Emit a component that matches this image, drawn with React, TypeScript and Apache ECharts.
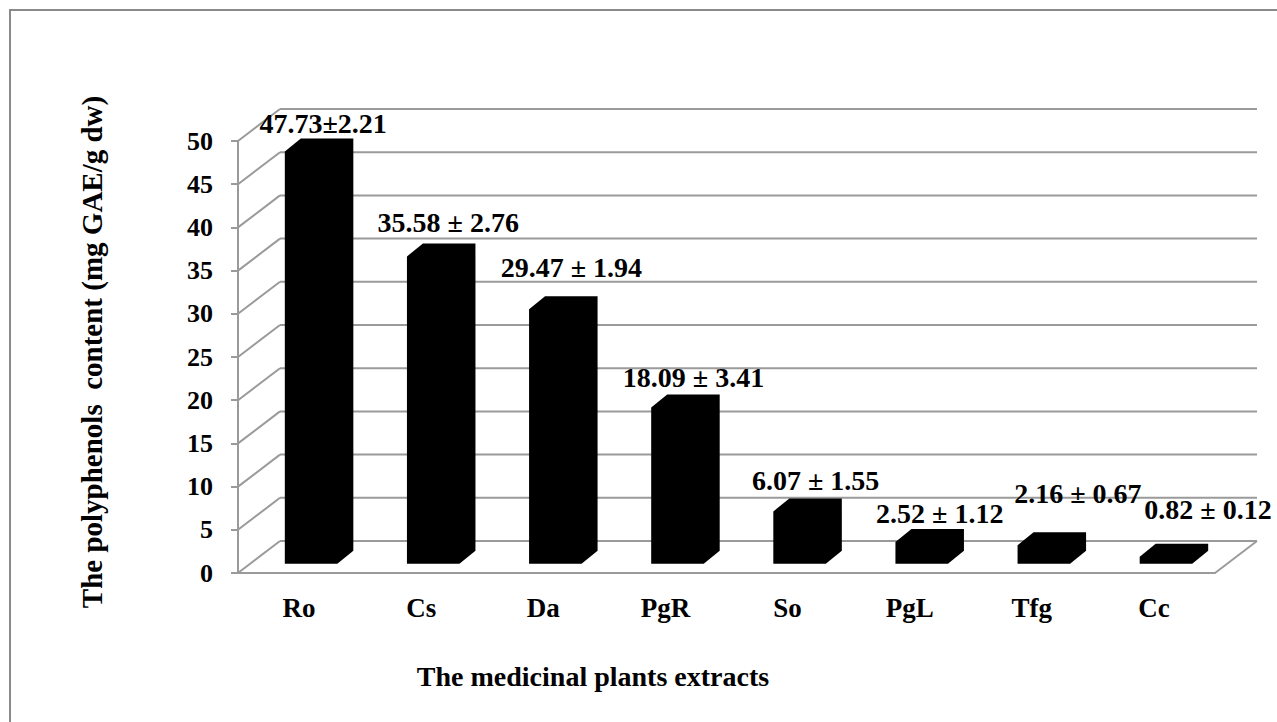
import React, { useEffect, useRef } from 'react';
import * as echarts from 'echarts';

const CATEGORIES = ['Ro', 'Cs', 'Da', 'PgR', 'So', 'PgL', 'Tfg', 'Cc'];
const MEANS = [47.73, 35.58, 29.47, 18.09, 6.07, 2.52, 2.16, 0.82];
const SDS = [2.21, 2.76, 1.94, 3.41, 1.55, 1.12, 0.67, 0.12];
const Y_TICKS = [0, 5, 10, 15, 20, 25, 30, 35, 40, 45, 50];

const X_TITLE = 'The medicinal plants extracts';
const Y_TITLE = 'The polyphenols  content (mg GAE/g dw)';

// layout nudges of the value labels (px), relative to the top of each bar
const LABEL_NUDGE_X = [4, 7, 8, 8, 8, 10, 26, 34];
const LABEL_NUDGE_Y = [-15, -21, -29, -17, -18, -16, -39, -34];

const FONT = '"Liberation Serif", "Times New Roman", serif';
const GRID_COLOR = '#9a9a9a';

export default function App() {
  const ref = useRef<HTMLDivElement>(null);
  useEffect(() => {
    const chart = echarts.init(ref.current!, null, { renderer: 'svg' });
    const DX = 42, DY = -32; // floor depth
    const F0 = 0.286; // bar front position in depth
    const BDX = 16, BDY = -13; // bar depth
    const FW = 0.43; // bar front width / band

    const labels = MEANS.map((m, i) =>
      i === 0 ? `${m.toFixed(2)}±${SDS[i].toFixed(2)}` : `${m.toFixed(2)} ± ${SDS[i].toFixed(2)}`
    );

    const option: any = {
      animation: false,
      backgroundColor: '#ffffff',
      grid: { left: 238, right: 62, top: 141, bottom: 149 },
      xAxis: {
        type: 'category',
        data: CATEGORIES,
        axisLine: { show: true, lineStyle: { color: GRID_COLOR, width: 2 } },
        axisTick: { show: false },
        axisLabel: { color: '#000', fontFamily: FONT, fontWeight: 'bold', fontSize: 27, margin: 21 },
        splitLine: { show: false },
      },
      yAxis: {
        type: 'value',
        min: 0,
        max: 50,
        interval: 5,
        axisLine: { show: true, lineStyle: { color: GRID_COLOR, width: 2 } },
        axisTick: { show: true, length: 7, lineStyle: { color: GRID_COLOR, width: 2 } },
        axisLabel: { color: '#000', fontFamily: FONT, fontWeight: 'bold', fontSize: 26, margin: 25 },
        splitLine: { show: false },
      },
      graphic: [
        {
          type: 'rect',
          shape: { x: 10, y: 10, width: 1300, height: 740 },
          style: { fill: 'none', stroke: '#8a8a8a', lineWidth: 2 },
          silent: true,
          z: -10,
        },
        {
          type: 'text',
          x: 593,
          y: 676,
          style: {
            text: X_TITLE,
            fill: '#000',
            font: `bold 28px ${FONT}`,
            textAlign: 'center',
            textVerticalAlign: 'middle',
          },
        },
        {
          type: 'text',
          x: 92,
          y: 352,
          rotation: Math.PI / 2,
          style: {
            text: Y_TITLE,
            fill: '#000',
            font: `bold 29px ${FONT}`,
            textAlign: 'center',
            textVerticalAlign: 'middle',
          },
        },
      ],
      series: [
        {
          type: 'custom',
          z: 1,
          silent: true,
          encode: { x: 0, y: 1 },
          data: Y_TICKS.map((v) => [0, v]),
          renderItem: (params: any, api: any) => {
            const cs = params.coordSys;
            const v = api.value(1);
            const y = api.coord([0, v])[1];
            const gx = cs.x;
            const gr = cs.x + cs.width;
            const ls = { stroke: GRID_COLOR, lineWidth: 2 };
            const children: any[] = [
              { type: 'line', shape: { x1: gx, y1: y, x2: gx + DX, y2: y + DY }, style: ls },
              { type: 'line', shape: { x1: gx + DX, y1: y + DY, x2: gr + DX, y2: y + DY }, style: ls },
            ];
            if (v === 0) {
              children.push({ type: 'line', shape: { x1: gr, y1: y, x2: gr + DX, y2: y + DY }, style: ls });
            }
            return { type: 'group', children };
          },
        },
        {
          type: 'custom',
          z: 3,
          encode: { x: 0, y: 1 },
          data: MEANS.map((v, i) => [i, v]),
          renderItem: (params: any, api: any) => {
            const i = api.value(0);
            const v = api.value(1);
            const base = api.coord([i, 0]);
            const top = api.coord([i, v]);
            const bw = api.size([1, 0])[0];
            const fw = bw * FW;
            const L = base[0] + F0 * DX - fw / 2;
            const R = L + fw;
            const B = base[1] + F0 * DY;
            const T = top[1] + F0 * DY;
            const pts = [
              [L, B],
              [L, T],
              [L + BDX, T + BDY],
              [R + BDX, T + BDY],
              [R + BDX, B + BDY],
              [R, B],
            ];
            const idx = params.dataIndex;
            const lx = (L + R) / 2 + BDX / 2 + LABEL_NUDGE_X[idx];
            const ly = T + BDY + LABEL_NUDGE_Y[idx];
            return {
              type: 'group',
              children: [
                { type: 'polygon', shape: { points: pts }, style: { fill: '#000' } },
                {
                  type: 'text',
                  x: lx,
                  y: ly,
                  z2: 10,
                  style: {
                    text: labels[idx],
                    fill: '#000',
                    font: `bold 28px ${FONT}`,
                    textAlign: 'center',
                    textVerticalAlign: 'middle',
                  },
                },
              ],
            };
          },
        },
      ],
    };
    chart.setOption(option);
    return () => chart.dispose();
  }, []);
  return (
    <div
      ref={ref}
      style={{ position: 'absolute', left: 0, top: 0, width: 1277, height: 722 }}
    />
  );
}
